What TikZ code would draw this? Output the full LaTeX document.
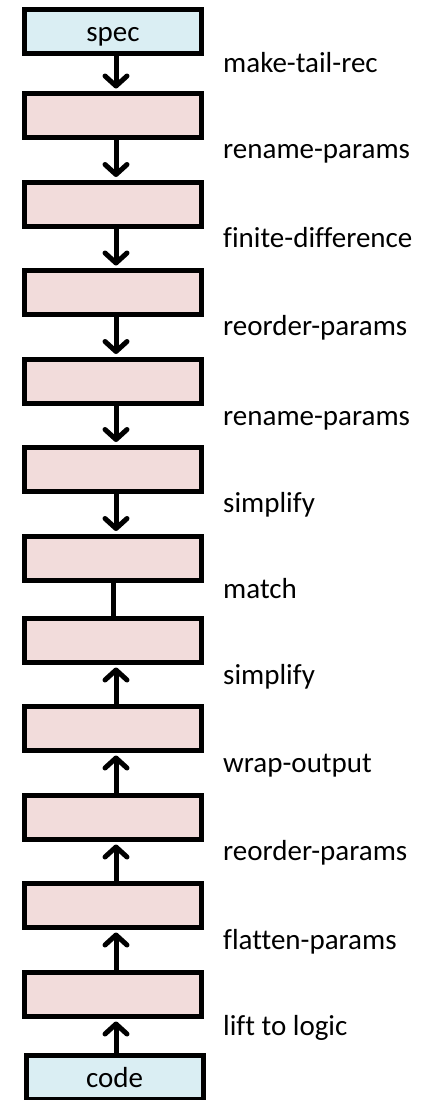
\documentclass[tikz,border=0pt]{standalone}
\usepackage{fontspec}
\setmainfont{Carlito}[Ligatures=CommonOff]
\usetikzlibrary{arrows.meta}
\definecolor{stagefill}{HTML}{F2DCDB}
\definecolor{endfill}{HTML}{DAEEF3}
\begin{document}
\begin{tikzpicture}[x=1pt,y=-1pt,
  stage/.style={draw=black,line width=5pt,fill=stagefill,minimum width=177pt,minimum height=44pt,inner sep=0pt,
    text height=19pt,text depth=0pt,font=\fontsize{29}{34}\selectfont},
  endpoint/.style={stage,fill=endfill},
  lbl/.style={anchor=base west,inner sep=0pt,font=\fontsize{29}{34}\selectfont},
  flow/.style={line width=5pt,-{Straight Barb[length=10pt,width=22pt,line cap=round,line join=round]},shorten >=2.5pt},
  joint/.style={line width=5pt}]
\useasboundingbox (0,0) rectangle (427,1100);
% transformation chain, top to bottom
\node[endpoint] (s0) at (113,31.5) {spec};
\node[stage] (s1) at (113,115.5) {};
\node[stage] (s2) at (113,204) {};
\node[stage] (s3) at (113,292.5) {};
\node[stage] (s4) at (113,381) {};
\node[stage] (s5) at (113,469) {};
\node[stage] (s6) at (113,558) {};
\node[stage] (s7) at (113,640.5) {};
\node[stage] (s8) at (113,728.5) {};
\node[stage] (s9) at (113,817.5) {};
\node[stage] (s10) at (113,905.5) {};
\node[stage] (s11) at (113,994.5) {};
\node[endpoint] (s12) at (114.5,1077.5) {code};
% downward steps from the spec
\foreach \a/\b in {s0/s1,s1/s2,s2/s3,s3/s4,s4/s5,s5/s6}
  \draw[flow] ([xshift=3pt]\a.south) -- ([xshift=3pt]\b.north);
% meeting point
\draw[joint] (s6.south) -- (s7.north);
% upward steps from the code
\foreach \a/\b in {s8/s7,s9/s8,s10/s9,s11/s10}
  \draw[flow] ([xshift=3pt]\a.north) -- ([xshift=3pt]\b.south);
\draw[flow] ([xshift=1.5pt]s12.north) -- ([xshift=3pt]s11.south);
% step names
\node[lbl] (l1) at (223,72) {make-tail-rec};
\node[lbl] (l2) at (223,158.5) {rename-params};
\node[lbl] (l3) at (223,247) {finite-difference};
\node[lbl] (l4) at (223,335.5) {reorder-params};
\node[lbl] (l5) at (223,425) {rename-params};
\node[lbl] (l6) at (223,512.5) {simplify};
\node[lbl] (l7) at (223,598.5) {match};
\node[lbl] (l8) at (223,684.5) {simplify};
\node[lbl] (l9) at (223,772) {wrap-output};
\node[lbl] (l10) at (223,860.5) {reorder-params};
\node[lbl] (l11) at (223,949) {flatten-params};
\node[lbl] (l12) at (223,1035.5) {lift to logic};
\end{tikzpicture}
\end{document}
